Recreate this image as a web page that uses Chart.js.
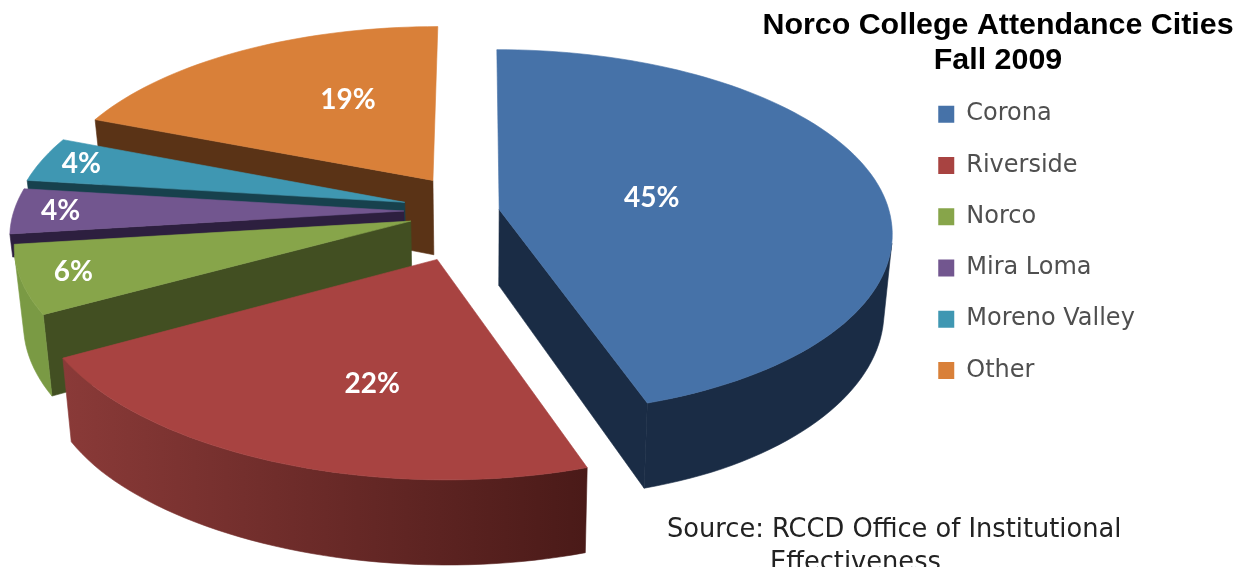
<!DOCTYPE html>
<html>
<head>
<meta charset="utf-8">
<title>Norco College Attendance Cities</title>
<script src="https://cdn.jsdelivr.net/npm/chart.js@4"></script>
<style>
  html, body { margin: 0; height: 100%; background: #fff; overflow: hidden; }
  #wrap { position: relative; width: 1248px; height: 567px; overflow: hidden; }
  #source {
    position: absolute; left: 667px; top: 512px; width: 560px;
    font: 25.7px/33px "DejaVu Sans", sans-serif; color: #222; white-space: nowrap;
  }
  #source span { margin-left: 103px; }
</style>
</head>
<body>
<div id="wrap">
  <canvas id="pie" width="1248" height="567"></canvas>
  <div id="source">Source: RCCD Office of Institutional<br><span>Effectiveness</span></div>
</div>
<script>
const cities = ['Corona', 'Riverside', 'Norco', 'Mira Loma', 'Moreno Valley', 'Other'];
const percents = [45, 22, 6, 4, 4, 19];
const titleLines = ['Norco College Attendance Cities', 'Fall 2009'];

const topColors = ['#4672a8', '#a84341', '#87a54a', '#72568f', '#3f97b2', '#d98039'];
const radialWallColors = ['#1a2c45', '#4a1a18', '#424f22', '#2d1f3f', '#17414d', '#5a3316'];
const outerWallStart = ['#1a2c45', '#8a3a38', '#7a9a44', '#2d1f3f', '#17414d', '#5a3316'];
const outerWallEnd = ['#1a2c45', '#4a1a18', '#7a9a44', '#2d1f3f', '#17414d', '#5a3316'];
// explode distance of each slice, in percent of the radius
const explode = [5.5, 28, 18, 19, 19.5, 21];
// the two thin slices sit behind their neighbours, so only a strip of wall shows
const wallDepth = [1, 1, 1, 0.3, 0.3, 1];
// percent labels: distance from the slice tip and turn in degrees from the slice middle
const labelRadius = [0.4, 0.62, 0.87, 0.88, 0.89, 0.55];
const labelTurn = [0, -7, 0, 0, 0, 8];

// tilted view of the pie plane
const view = { x0: 478, y0: 211, rx: 390, ry: 180, depth: 76, persp: 0.124, sink: 0.02, lean: 10 };
// edge-on cut faces smaller than this are skipped
const minFaceArea = 2000;

function project(u, v, z) {
  const p = 1 / (1 - view.persp * v);
  const s = 1 - view.sink * z;
  const near = Math.max(v, 0);
  return {
    x: view.x0 + view.rx * u * p * s + view.lean * near * near,
    y: view.y0 + view.ry * v * p + view.depth * z * Math.min(p, 1.12)
  };
}

function polygon(ctx, pts, fill) {
  ctx.beginPath();
  pts.forEach((pt, i) => i ? ctx.lineTo(pt.x, pt.y) : ctx.moveTo(pt.x, pt.y));
  ctx.closePath();
  ctx.fillStyle = fill;
  ctx.strokeStyle = fill;
  ctx.lineWidth = 0.6;
  ctx.fill();
  ctx.stroke();
}

// positive when the quad faces the viewer
function facing(q) {
  let area = 0;
  q.forEach((a, i) => {
    const b = q[(i + 1) % q.length];
    area += a.x * b.y - b.x * a.y;
  });
  return area;
}

function drawSlice(ctx, arc, i) {
  const { startAngle, endAngle } = arc;
  const mid = (startAngle + endAngle) / 2;
  const d = explode[i] / 100;
  const ax = d * Math.cos(mid);
  const ay = d * Math.sin(mid);
  const z = wallDepth[i];

  const steps = Math.max(4, Math.ceil((endAngle - startAngle) / 0.03));
  const rim = [];
  for (let s = 0; s <= steps; s++) {
    const t = startAngle + (endAngle - startAngle) * s / steps;
    rim.push([ax + Math.cos(t), ay + Math.sin(t)]);
  }
  const first = rim[0];
  const last = rim[steps];

  // flat cut faces
  [[first, [ax, ay]], [[ax, ay], last]].forEach(([a, b]) => {
    const q = [project(a[0], a[1], 0), project(b[0], b[1], 0), project(b[0], b[1], z), project(a[0], a[1], z)];
    if (facing(q) > minFaceArea) polygon(ctx, q, radialWallColors[i]);
  });

  // curved outer wall, only the part turned towards the viewer
  const xs = rim.map(r => project(r[0], r[1], 0).x);
  const grad = ctx.createLinearGradient(Math.min(...xs), 0, Math.max(...xs), 0);
  grad.addColorStop(0, outerWallStart[i]);
  grad.addColorStop(1, outerWallEnd[i]);
  const upper = [];
  const lower = [];
  for (let s = 0; s < steps; s++) {
    const a = rim[s];
    const b = rim[s + 1];
    const q = [project(b[0], b[1], 0), project(a[0], a[1], 0), project(a[0], a[1], z), project(b[0], b[1], z)];
    if (facing(q) > 0) {
      if (!upper.length) {
        upper.push(q[1]);
        lower.push(q[2]);
      }
      upper.push(q[0]);
      lower.push(q[3]);
    }
  }
  if (upper.length) polygon(ctx, upper.concat(lower.reverse()), grad);

  // top face
  const top = [project(ax, ay, 0)].concat(rim.map(r => project(r[0], r[1], 0)));
  polygon(ctx, top, topColors[i]);
}

function drawLabel(ctx, arc, i) {
  const mid = (arc.startAngle + arc.endAngle) / 2;
  const d = explode[i] / 100;
  const a = mid + labelTurn[i] * Math.PI / 180;
  const r = labelRadius[i];
  const pt = project(d * Math.cos(mid) + r * Math.cos(a), d * Math.sin(mid) + r * Math.sin(a), 0);
  ctx.fillStyle = '#fff';
  ctx.font = 'bold 28px Lato, sans-serif';
  ctx.textAlign = 'center';
  ctx.textBaseline = 'middle';
  ctx.fillText(percents[i] + '%', pt.x, pt.y);
}

function depthOf(arc) {
  return Math.sin((arc.startAngle + arc.endAngle) / 2);
}

const solidPie = {
  id: 'solidPie',
  afterLayout(chart) {
    // title and legend sit in the top right corner, the pie uses the rest of the canvas
    const title = chart.titleBlock;
    title.left = 748;
    title.right = 1248;
    title.top = 8;
    const legend = chart.legend;
    legend.left = 911;
    legend.right = legend.left + legend.width;
    legend.top = 75;
    legend.bottom = legend.top + legend.height;
  },
  beforeDatasetsDraw(chart) {
    const ctx = chart.ctx;
    const arcs = chart.getDatasetMeta(0).data;
    const order = arcs.map((arc, i) => i).sort((a, b) => depthOf(arcs[a]) - depthOf(arcs[b]));
    ctx.save();
    order.forEach(i => drawSlice(ctx, arcs[i], i));
    arcs.forEach((arc, i) => drawLabel(ctx, arc, i));
    ctx.restore();
    return false;
  }
};

new Chart(document.getElementById('pie'), {
  type: 'pie',
  data: {
    labels: cities,
    datasets: [{
      data: percents,
      backgroundColor: topColors,
      borderWidth: 0
    }]
  },
  options: {
    responsive: false,
    animation: false,
    plugins: {
      title: {
        display: true,
        text: titleLines,
        color: '#000',
        font: { family: '"Liberation Sans", Arial, sans-serif', size: 30.4, weight: 'bold', lineHeight: 1.15 },
        padding: 0
      },
      legend: {
        position: 'right',
        align: 'start',
        labels: {
          color: '#4f4f4f',
          font: { family: '"DejaVu Sans", sans-serif', size: 24 },
          boxWidth: 16,
          boxHeight: 17,
          padding: 27.25
        }
      },
      tooltip: { enabled: false }
    }
  },
  plugins: [solidPie]
});
</script>
</body>
</html>
